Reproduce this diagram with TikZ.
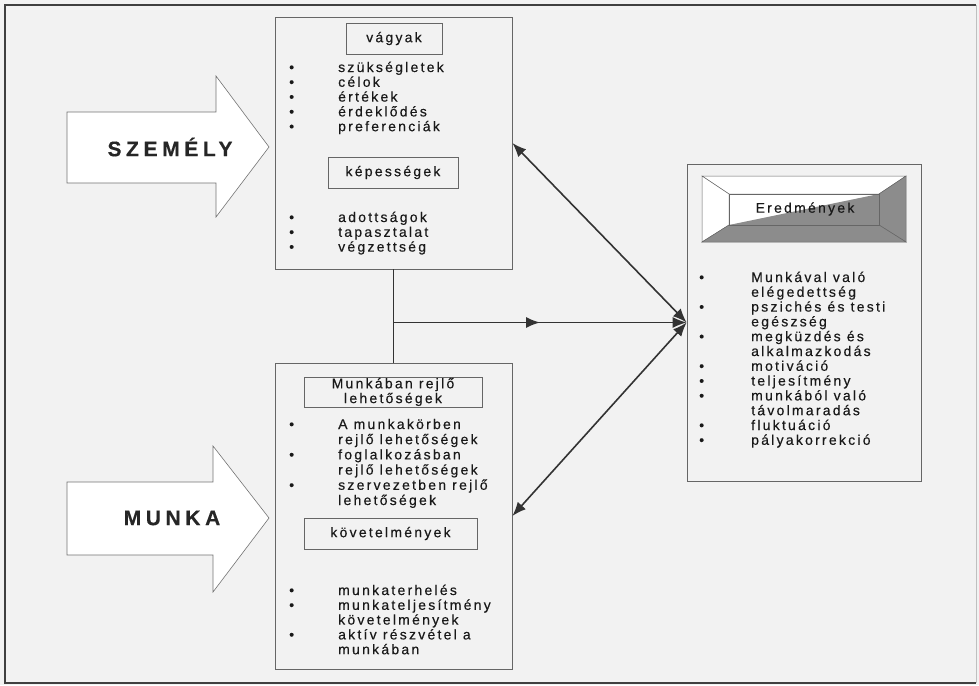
\documentclass[tikz,border=0pt]{standalone}
\usepackage{fontspec}
\setmainfont{Liberation Sans}[LetterSpace=16,FakeBold=0.3]
\usetikzlibrary{arrows.meta,decorations.markings}

\newcommand\bl{\textbullet}
\newcommand\listfont{\fontsize{14}{14.8}\selectfont}

\begin{document}
\begin{tikzpicture}[x=1pt,y=-1pt,
  panel/.style={draw=black!60, line width=0.7pt, inner sep=0pt, rectangle},
  headbox/.style={draw=black!60, line width=0.7pt, inner sep=0pt, rectangle,
    align=center, font=\listfont, text=black!90},
  listtxt/.style={anchor=base west, inner sep=0pt, font=\listfont, text=black!90},
  bigarrow/.style={draw=black!55, line width=0.6pt, fill=white},
  biglabel/.style={inner sep=0pt, font=\fontsize{21}{23}\selectfont\bfseries\addfontfeatures{LetterSpace=22}, text=black!85},
  conn/.style={draw=black!80, line width=1.6pt},
  tip/.style={-{Latex[length=14pt,width=11pt]}},
  twotip/.style={{Latex[length=14pt,width=11pt]}-{Latex[length=14pt,width=11pt]}},
  midtip/.style={postaction={decorate}, decoration={markings,
    mark=at position 0.5 with {\arrow{Latex[length=14pt,width=11pt]}}}},
  bevlight/.style={fill=white, draw=black!60, line width=0.5pt},
  bevdark/.style={fill=black!45, draw=black!60, line width=0.5pt}
]
% page
\useasboundingbox (0,0) rectangle (979,685);
\fill[black!5] (0,0) rectangle (979,685);
\draw[black!75, line width=2pt] (976,5) -- (5,5) -- (5,683) -- (976,683);
\draw[black!25, line width=1pt] (976,5) -- (976,683);

% block arrows
\draw[bigarrow] (67,112) -- (216,112) -- (216,76) -- (269,147) -- (216,217)
  -- (216,183) -- (67,183) -- cycle;
\node[biglabel] (szemely) at (170,147) {SZEMÉLY};
\draw[bigarrow] (67,482) -- (213,482) -- (213,446) -- (269,518) -- (213,592)
  -- (213,555) -- (67,555) -- cycle;
\node[biglabel] (munka) at (172,518) {MUNKA};

% person panel
\node[panel, minimum width=237pt, minimum height=252pt] (pers) at (393.5,143) {};
\node[headbox, minimum width=96pt, minimum height=31pt] (vagyak) at (394,38.5) {vágyak};
\node[listtxt] (vlist) at (289,72) {\begin{tabular}[t]{@{}p{49pt}@{}l@{}}
\bl & szükségletek\\
\bl & célok\\
\bl & értékek\\
\bl & érdeklődés\\
\bl & preferenciák
\end{tabular}};
\node[headbox, minimum width=130pt, minimum height=31pt] (kepes) at (393,172.5) {képességek};
\node[listtxt] (klist) at (289,222) {\begin{tabular}[t]{@{}p{49pt}@{}l@{}}
\bl & adottságok\\
\bl & tapasztalat\\
\bl & végzettség
\end{tabular}};

% work panel
\node[panel, minimum width=237pt, minimum height=306pt] (work) at (393.5,516) {};
\node[headbox, minimum width=178pt, minimum height=30pt] (rejlo) at (393,392)
  {\fontsize{14}{16}\selectfont Munkában rejlő\\ lehetőségek};
\node[listtxt, font=\fontsize{14}{15.2}\selectfont] (rlist) at (289,429) {\begin{tabular}[t]{@{}p{49pt}@{}l@{}}
\bl & A munkakörben\\
 & rejlő lehetőségek\\
\bl & foglalkozásban\\
 & rejlő lehetőségek\\
\bl & szervezetben rejlő\\
 & lehetőségek
\end{tabular}};
\node[headbox, minimum width=173pt, minimum height=31pt] (kovet) at (390.5,533.5) {követelmények};
\node[listtxt] (klist2) at (289,595) {\begin{tabular}[t]{@{}p{49pt}@{}l@{}}
\bl & munkaterhelés\\
\bl & munkateljesítmény\\
 & követelmények\\
\bl & aktív részvétel a\\
 & munkában
\end{tabular}};

% outcome panel
\node[panel, minimum width=234pt, minimum height=317pt] (res) at (804,322.5) {};
% bevelled title plate
\coordinate (oTL) at (702,176); \coordinate (oTR) at (906,176);
\coordinate (oBL) at (702,242); \coordinate (oBR) at (906,242);
\coordinate (iTL) at (729,194); \coordinate (iTR) at (879,194);
\coordinate (iBL) at (729,225); \coordinate (iBR) at (879,225);
\draw[bevlight] (oTL) -- (oTR) -- (iTR) -- (iTL) -- cycle;
\draw[bevlight] (oTL) -- (iTL) -- (iBL) -- (oBL) -- cycle;
\draw[bevdark] (oTR) -- (oBR) -- (iBR) -- (iTR) -- cycle;
\draw[bevdark] (oBL) -- (oBR) -- (iBR) -- (iBL) -- cycle;
\fill[white] (iTL) -- (iTR) -- (iBL) -- cycle;
\fill[black!45] (iBL) -- (iTR) -- (iBR) -- cycle;
\draw[black!60, line width=0.5pt] (iTL) rectangle (iBR);
\node[inner sep=0pt, font=\listfont, text=black!90] (ered) at (805,209) {Eredmények};
\node[listtxt] (elist) at (699,282) {\begin{tabular}[t]{@{}p{52pt}@{}l@{}}
\bl & Munkával való\\
 & elégedettség\\
\bl & pszichés és testi\\
 & egészség\\
\bl & megküzdés és\\
 & alkalmazkodás\\
\bl & motiváció\\
\bl & teljesítmény\\
\bl & munkából való\\
 & távolmaradás\\
\bl & fluktuáció\\
\bl & pályakorrekció
\end{tabular}};

% connectors
\coordinate (j) at (pers.south |- res.west);
\draw[conn] (pers.south) -- (work.north);
\draw[conn, tip, midtip] (j) -- (res.west);
\draw[conn, twotip] (res.west) -- (pers.east);
\draw[conn, twotip] (res.west) -- (work.east);
\end{tikzpicture}
\end{document}
